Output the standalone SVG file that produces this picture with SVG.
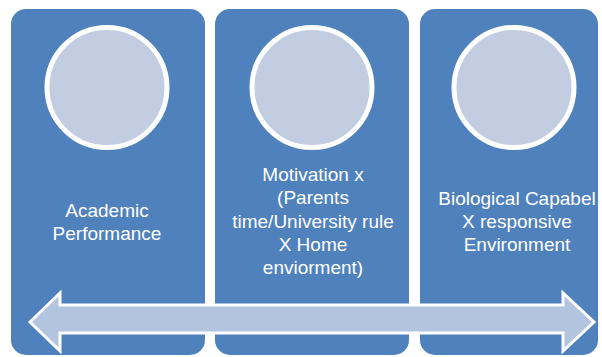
<svg xmlns="http://www.w3.org/2000/svg" width="602" height="357" viewBox="0 0 602 357">
  <style>
    .panel { fill: #4F81BD; }
    .disc { fill: #C3CDE1; stroke: #FFFFFF; stroke-width: 5; }
    .label { font-family: "Liberation Sans", Arial, sans-serif; font-size: 19px; fill: #FFFFFF; text-anchor: middle; }
    .band { fill: #B3C4DE; stroke: #FFFFFF; stroke-width: 3; stroke-linejoin: miter; }
  </style>
  <rect width="602" height="357" fill="#FFFFFF"/>

  <!-- Column 1 -->
  <g id="academic-performance">
    <rect class="panel" x="11" y="9" width="194" height="346" rx="15" ry="15"/>
    <circle class="disc" cx="107" cy="87.5" r="60"/>
    <text class="label" x="107" y="217">Academic</text>
    <text class="label" x="107" y="240">Performance</text>
  </g>

  <!-- Column 2 -->
  <g id="motivation">
    <rect class="panel" x="215" y="9" width="194" height="346" rx="15" ry="15"/>
    <circle class="disc" cx="312" cy="87.5" r="60"/>
    <text class="label" x="313" y="181">Motivation x</text>
    <text class="label" x="313" y="204">(Parents</text>
    <text class="label" x="313" y="228">time/University rule</text>
    <text class="label" x="313" y="251">X Home</text>
    <text class="label" x="313" y="274">enviorment)</text>
  </g>

  <!-- Column 3 -->
  <g id="biological-capabel">
    <rect class="panel" x="420" y="9" width="178" height="346" rx="15" ry="15"/>
    <circle class="disc" cx="514" cy="87.5" r="60"/>
    <text class="label" x="517" y="205">Biological Capabel</text>
    <text class="label" x="517" y="228">X responsive</text>
    <text class="label" x="517" y="251">Environment</text>
  </g>

  <!-- Double-headed arrow spanning the columns -->
  <g id="connectors">
    <path class="band" d="M30,322 L60,293 L60,305 L563,305 L563,293 L594,322 L563,351 L563,333 L60,333 L60,351 Z"/>
  </g>
</svg>
